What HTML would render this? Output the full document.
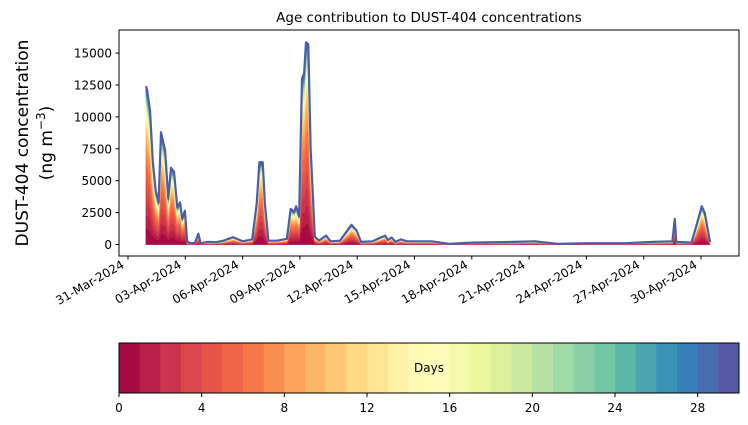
<!DOCTYPE html>
<html><head><meta charset="utf-8"><style>
body{margin:0;background:#fff;}
svg{display:block;font-family:"DejaVu Sans","Liberation Sans",sans-serif;}
</style></head><body>
<svg id="chart" width="748" height="425" viewBox="0 0 748 425" xmlns="http://www.w3.org/2000/svg">
<text x="429" y="22" text-anchor="middle" font-size="13.5">Age contribution to DUST-404 concentrations</text>
<g font-size="17">
<text transform="translate(28,143) rotate(-90)" text-anchor="middle">DUST-404 concentration</text>
<text transform="translate(52,143) rotate(-90)" text-anchor="middle">(ng m<tspan baseline-shift="super" font-size="12">−3</tspan>)</text>
</g>
<g id="plot"></g>
<g id="yaxis"></g>
<g id="xaxis"></g>
<rect x="119" y="30" width="620" height="226" fill="none" stroke="#000" stroke-width="1"/>
<g id="cbar"></g>
<text x="429" y="372" text-anchor="middle" font-size="12">Days</text>
</svg>
<script>
// data: time in days since 31-Mar-2024 00:00, total concentration (ng m-3)
const times = [0.94,1.0,1.15,1.3,1.45,1.6,1.73,1.94,2.11,2.25,2.41,2.58,2.72,2.84,2.98,3.1,3.3,3.5,3.68,3.8,4.2,4.6,5.0,5.5,6.0,6.5,6.74,6.88,7.05,7.17,7.35,7.8,8.32,8.52,8.7,8.8,8.96,9.11,9.22,9.32,9.44,9.56,9.78,10.0,10.37,10.6,11.1,11.7,11.97,12.2,12.8,13.46,13.6,13.8,14.0,14.29,14.6,15.9,16.8,18.0,20.2,21.3,22.5,24.0,26.0,27.5,28.5,28.63,28.7,29.5,29.8,30.04,30.2,30.47];
const totals = [12400,12100,10500,6500,4200,3300,8800,7370,3600,6000,5700,2900,3300,2000,2650,200,100,120,850,100,200,180,300,570,250,400,3200,6450,6450,3200,300,300,450,2800,2550,3000,2200,13000,13400,15850,15700,7600,600,300,700,250,300,1540,1100,200,250,700,350,550,200,400,250,250,50,150,200,250,50,100,100,200,250,2000,200,150,1700,3000,2450,200];
// share of each age band (0..29 days) in the total
const ageShare = [0.12,0.10,0.10,0.09,0.09,0.08,0.07,0.06,0.05,0.045,0.04,0.035,0.03,0.025,0.02,0.018,0.016,0.016,0.016,0.016,0.015,0.014,0.013,0.012,0.011,0.01,0.009,0.008,0.008,0.02];
const yTicks = [0,2500,5000,7500,10000,12500,15000];
const xTickDays = [0,3,6,9,12,15,18,21,24,27,30];
const xTickLabels = ["31-Mar-2024","03-Apr-2024","06-Apr-2024","09-Apr-2024","12-Apr-2024","15-Apr-2024","18-Apr-2024","21-Apr-2024","24-Apr-2024","27-Apr-2024","30-Apr-2024"];
const cbarTicks = [0,4,8,12,16,20,24,28];

const NS="http://www.w3.org/2000/svg";
const X = d => 128 + d*19.1;
const Y = v => 244.5 - v*0.01276;
const anchors=["#9e0142","#d53e4f","#f46d43","#fdae61","#fee08b","#ffffbf","#e6f598","#abdda4","#66c2a5","#3288bd","#5e4fa2"];
function hex(h){return [1,3,5].map(i=>parseInt(h.substr(i,2),16));}
function spectral(t){const p=t*10,i=Math.min(9,Math.floor(p)),f=p-i;const a=hex(anchors[i]),b=hex(anchors[i+1]);return "rgb("+a.map((c,k)=>Math.round(c+(b[k]-c)*f)).join(",")+")";}
function mk(tag,attrs,parent){const e=document.createElementNS(NS,tag);for(const k in attrs)e.setAttribute(k,attrs[k]);parent.appendChild(e);return e;}

const plot=document.getElementById('plot');
const shareSum=ageShare.reduce((a,b)=>a+b,0);
let cum=times.map(()=>0);
for(let a=0;a<ageShare.length;a++){
  const lower=cum.slice();
  cum=cum.map((c,i)=>c+totals[i]*ageShare[a]/shareSum);
  let d="M"+times.map((t,i)=>X(t).toFixed(1)+","+Y(cum[i]).toFixed(1)).join("L");
  for(let i=times.length-1;i>=0;i--) d+="L"+X(times[i]).toFixed(1)+","+Y(lower[i]).toFixed(1);
  d+="Z";
  const col=spectral((a+0.5)/30);
  const p=mk('path',{d:d,fill:col,stroke:col,'stroke-width':0.8,'stroke-linejoin':'round'},plot);
  
  
}
const line=mk('path',{d:"M"+times.map((t,i)=>X(t).toFixed(1)+","+Y(totals[i]).toFixed(1)).join("L"),fill:'none',stroke:'#4a5ea8','stroke-width':2.2,'stroke-linejoin':'round'},plot);



const ya=document.getElementById('yaxis');
yTicks.forEach(v=>{
  mk('line',{x1:115.5,x2:119,y1:Y(v),y2:Y(v),stroke:'#000'},ya);
  const t=mk('text',{x:112,y:Y(v)+4.5,'text-anchor':'end','font-size':12},ya);
  t.textContent=v;
  
  
});
const xa=document.getElementById('xaxis');
xTickDays.forEach((d,i)=>{
  mk('line',{x1:X(d),x2:X(d),y1:256,y2:259.5,stroke:'#000'},xa);
  const t=mk('text',{transform:"translate("+(X(d)-3)+",267) rotate(-30)",'text-anchor':'end','font-size':12},xa);
  t.textContent=xTickLabels[i];
  
  
});
const cb=document.getElementById('cbar');
const cx=v=>119+v*(620/30);
for(let a=0;a<30;a++){
  const r=mk('rect',{x:cx(a),y:343,width:620/30+0.5,height:50,fill:spectral((a+0.5)/30)},cb);
  
  
}
mk('rect',{x:119,y:343,width:620,height:50,fill:'none',stroke:'#000'},cb);
cbarTicks.forEach(v=>{
  mk('line',{x1:cx(v),x2:cx(v),y1:393,y2:397,stroke:'#000'},cb);
  const t=mk('text',{x:cx(v),y:412,'text-anchor':'middle','font-size':12},cb);
  t.textContent=v;
  
  
});
</script>
</body></html>
